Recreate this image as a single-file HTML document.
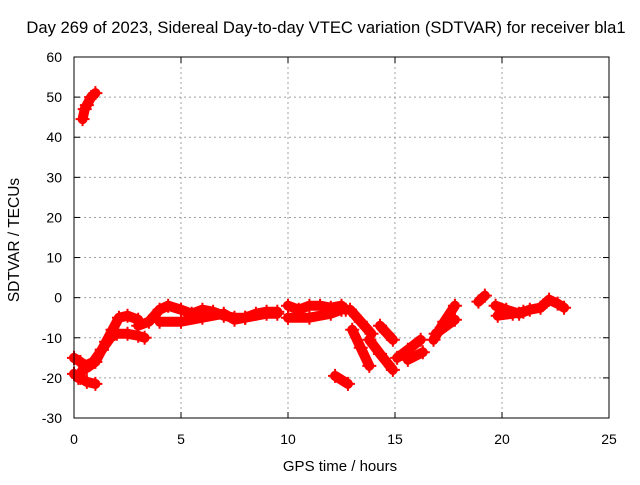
<!DOCTYPE html>
<html><head><meta charset="utf-8"><style>
body{margin:0;background:#fff}
text{font-family:"Liberation Sans",sans-serif;font-size:14px;fill:#000}
</style></head><body>
<svg id="chart" width="640" height="480" xmlns="http://www.w3.org/2000/svg">
<rect width="640" height="480" fill="#fff"/>
<text x="326" y="33" text-anchor="middle" style="font-size:16.6px">Day 269 of 2023, Sidereal Day-to-day VTEC variation (SDTVAR) for receiver bla1</text>
<g id="grid"></g>
<g id="axes"></g>
<g id="series"></g>
<rect x="74" y="57" width="535" height="361" fill="none" stroke="#000" stroke-width="1"/>
<text x="340" y="471" text-anchor="middle" style="font-size:15px">GPS time / hours</text>
<text transform="translate(19,240) rotate(-90)" text-anchor="middle" style="font-size:15.5px">SDTVAR / TECUs</text>
</svg>
<script>
const xTicks=[0,5,10,15,20,25];
const yTicks=[-30,-20,-10,0,10,20,30,40,50,60];
const track1=[[0.4,44.5],[0.5,47],[0.6,48],[0.8,50],[1.0,51]];
const track2=[[0,-19],[0.3,-20],[0.6,-21],[1.0,-21.5]];
const track3=[[0,-15],[0.3,-16],[0.6,-17.5],[1,-16],[1.3,-13],[1.5,-11],[1.8,-8],[2.1,-5],[2.5,-4.5],[3,-5.5]];
const track4=[[0.2,-20],[0.5,-17],[0.9,-16],[1.3,-13],[1.7,-10],[2,-9],[2.5,-9],[3,-9.5],[3.3,-10]];
const track5=[[3,-7],[3.5,-6],[4,-3],[4.4,-2],[5,-3],[5.5,-4],[6,-3],[6.5,-3.5],[7,-4.5],[7.5,-5],[8,-5],[8.5,-4],[9,-3.5],[9.5,-3.5]];
const track6=[[4,-6],[5,-6],[6,-5],[7,-4],[7.5,-5.5],[8,-5],[9,-4],[9.5,-4]];
const track7=[[10,-2],[10.5,-3],[11,-2],[11.5,-2],[12,-2.5],[12.5,-2],[12.7,-3]];
const track8=[[10,-5],[11,-5],[12,-4],[12.5,-3]];
const track9=[[12.9,-3],[13.4,-6],[13.9,-9]];
const track10=[[13.0,-8],[13.4,-12.5],[13.8,-17]];
const track11=[[13.8,-10.5],[14.3,-14],[14.9,-18]];
const track12=[[14.3,-7],[14.9,-10.5]];
const track13=[[12.2,-19.5],[12.8,-21.5]];
const track14=[[15.1,-15],[15.6,-13],[16.2,-10.5]];
const track15=[[15.6,-15.5],[16.3,-13.6]];
const track16=[[16.8,-10.5],[17.3,-6],[17.8,-2]];
const track17=[[16.9,-9],[17.8,-5.5]];
const track18=[[18.9,-1],[19.2,0.5]];
const track19=[[19.7,-2],[20.2,-3],[20.8,-4],[21.3,-3],[21.8,-2.5],[22.2,-0.5],[22.6,-1.5],[22.9,-2.5]];
const track20=[[19.8,-4.5],[20.5,-4],[21,-3.5]];
const tracks=[track1,track2,track3,track4,track5,track6,track7,track8,track9,track10,track11,track12,track13,track14,track15,track16,track17,track18,track19,track20];
const NS='http://www.w3.org/2000/svg';
const X=t=>74+t*535/25;
const Y=v=>418-(v+30)*361/90;
function mk(tag,attrs,parent){const e=document.createElementNS(NS,tag);for(const k in attrs)e.setAttribute(k,attrs[k]);parent.appendChild(e);return e;}
const grid=document.getElementById('grid'),axes=document.getElementById('axes'),series=document.getElementById('series');
xTicks.forEach(t=>{
 if(t>0&&t<25){const g=mk('line',{x1:X(t),x2:X(t),y1:57,y2:418,stroke:'#a0a0a0','stroke-dasharray':'2,3'},grid);
 
 }
 const l=mk('text',{x:X(t),y:444,'text-anchor':'middle'},axes);l.textContent=t;
 
 
 mk('line',{x1:X(t),x2:X(t),y1:418,y2:412,stroke:'#000'},axes);
 mk('line',{x1:X(t),x2:X(t),y1:57,y2:63,stroke:'#000'},axes);
});
yTicks.forEach(v=>{
 if(v>-30&&v<60){const g=mk('line',{x1:74,x2:609,y1:Y(v),y2:Y(v),stroke:'#a0a0a0','stroke-dasharray':'2,3'},grid);
 
 }
 const l=mk('text',{x:62,y:Y(v)+5,'text-anchor':'end'},axes);l.textContent=v;
 
 
 mk('line',{x1:74,x2:80,y1:Y(v),y2:Y(v),stroke:'#000'},axes);
 mk('line',{x1:603,x2:609,y1:Y(v),y2:Y(v),stroke:'#000'},axes);
});
tracks.forEach(tr=>{
 const p=mk('polyline',{points:tr.map(d=>X(d[0])+','+Y(d[1])).join(' '),fill:'none',stroke:'#ff0000','stroke-width':10,'stroke-linecap':'round','stroke-linejoin':'round'},series);
 
 
 tr.forEach(d=>{
  const m=mk('path',{d:`M${X(d[0])-7},${Y(d[1])}h14M${X(d[0])},${Y(d[1])-7}v14`,stroke:'#ff0000','stroke-width':2},series);
  
  
 });
});
</script>
</body></html>
